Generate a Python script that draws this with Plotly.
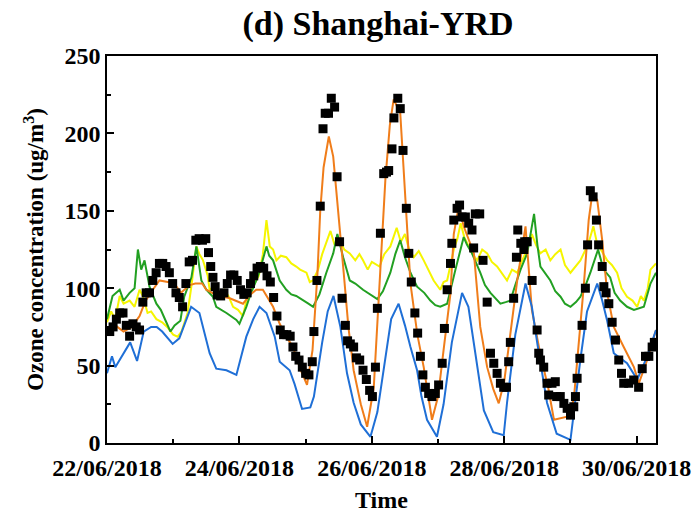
import pandas as pd
import plotly.graph_objects as go

START = pd.Timestamp("2018-06-22 00:00")

# ---- Model 1 (blue) ----
blue_h = [0, 1.8, 3, 5, 8.4, 10.9, 13.3, 16, 18, 20, 23.8, 26.2, 28, 30.5, 33.5, 34.8, 37.2,
          39.6, 43.3, 46.9, 50.5, 53, 55.3, 57.8, 60.8, 62.6, 66.2, 68, 70.7, 73.7, 75, 78,
          80, 82.1, 84.6, 87, 89.4, 92, 95.5, 98, 101, 103, 105.7, 108, 110, 112.4, 114,
          116, 119.6, 122, 125, 128.7, 131, 133, 136.6, 140, 143.8, 145, 148, 151.7, 154,
          156, 159.5, 163, 168, 171.6, 174, 177.7, 179.5, 181.3, 183.7, 188.5, 192.2,
          195.8, 199]
blue_v = [45, 56, 49, 55, 65, 53, 72, 75, 75, 72, 64, 67.6, 76, 88, 84, 75, 58,
          48, 47, 44, 68.7, 80, 88, 84, 68.7, 52.5, 47, 38, 22, 23, 30, 65,
          85, 95, 75, 45, 26, 12, 4, 20, 55, 80, 90, 76, 62, 47, 30,
          15, 4, 25, 65, 97, 88, 64, 21, 7, 5, 26, 70, 103, 88,
          64, 26, 6, 2, 54, 85, 103, 92, 79, 58, 51.5, 41,
          56, 73]

# ---- Model 2 (orange) ----
orange_h = [0, 3, 6, 9, 11.8, 14, 17, 19, 22, 24, 26.8, 30, 32, 34.5, 36, 39.6, 44.5, 49.3,
            52, 54.1, 56.5, 60.2, 62.6, 65, 67.4, 70, 72.5, 74.5, 76.3, 77.3, 78.5, 80.4,
            82, 83.4, 85.8, 87.5, 89.4, 92, 94.3, 96.7, 99, 100.9, 102.5, 103.9, 106.3,
            108.2, 110, 112.5, 114.8, 117.8, 120, 122, 124.5, 125.7, 127.5, 129.3, 131,
            133, 135.3, 137.8, 140, 142, 144, 146.2, 148.7, 151.7, 154, 157, 160, 162,
            166.8, 169.2, 172.8, 174.6, 175.9, 177.7, 179.5, 181.3, 183.7, 187.3, 191,
            192.8, 195.8, 199]
orange_v = [72, 76, 72, 75, 82, 92, 100, 105, 104, 104, 97, 102, 103, 103, 99, 95.6, 93.5, 90,
            96, 99, 99, 88, 77, 68.7, 62, 48, 37.5, 60, 110, 150, 178, 198,
            185, 159, 110, 75, 47, 25, 10.5, 36, 112, 170, 205, 222, 213,
            153, 103, 70, 49, 15, 30, 60, 96.7, 135, 153, 140, 132,
            122.5, 75, 49, 35, 25.6, 40, 69, 105, 140, 86, 58, 35, 15,
            17, 28, 101, 144, 161, 157, 131, 97, 75, 62, 49,
            38.6, 53.6, 73]

# ---- Model 3 (green) ----
green_h = [0, 2, 4.6, 6, 8.2, 10, 11.2, 12.4, 13.6, 15.4, 17.9, 19.5, 21.5, 23, 24.5, 26.6,
           28, 30.6, 32.4, 34.2, 36, 38.4, 39.6, 43.3, 46.9, 48, 50.5, 52, 54.1, 55.5, 57.8,
           58.8, 60.2, 62.6, 65, 66.8, 68.6, 71, 73, 74.7, 77, 79.5, 82, 83.5, 85.6, 88,
           90, 92.8, 94.5, 96.4, 98, 100, 102.7, 104.5, 106.3, 108, 110, 112.4, 115,
           117.2, 119, 120.8, 123.3, 126.3, 128, 129.3, 130.5, 132.3, 135.3, 137, 139,
           141, 142.6, 144.5, 146.2, 148, 149.9, 152.3, 154.8, 156, 157.1, 160.7, 162.5,
           164.4, 166, 168, 170, 171.6, 173.5, 175.2, 178, 180, 182.4, 184, 186, 188.5,
           191, 194.6, 197, 199]
green_v = [80, 95, 99, 92, 97, 100, 125, 112, 118, 101, 90, 86, 78, 72, 76, 79,
           94.5, 107, 127, 105, 99, 94.5, 88, 84, 79.5, 77, 88, 96, 105, 112, 127,
           121, 118, 105, 99, 96, 95, 92, 90, 88, 96, 110, 122.5, 135, 120, 105,
           103, 99, 97, 94.5, 93, 98, 110, 122, 131, 120, 110, 101, 97,
           92, 89, 88, 90, 112, 125, 133, 128, 122.5, 110, 102, 97,
           93, 90, 91, 92, 102, 112, 122.5, 148, 128, 114, 105, 98,
           94.5, 90, 88, 91, 94.5, 102, 110, 125, 112, 107, 97, 92, 88,
           86, 88, 103, 110]

# ---- Model 4 (yellow) ----
yellow_h = [0, 1.5, 3, 4.6, 6, 8.2, 10, 11.8, 13, 14.7, 16, 17.9, 20, 21.8, 24, 25.6, 27,
            29.2, 30.5, 32.4, 33.5, 34.8, 36.5, 37.2, 39, 41, 42.5, 44, 45.7, 47.5, 49.3,
            50.5, 52, 53.5, 55, 56.5, 57.8, 59, 60.2, 61.4, 63, 65, 66.8, 68.6, 70, 72.3,
            73.5, 74.7, 76.5, 78, 79.5, 81, 82.5, 84, 86, 88, 90, 91.5, 92.8, 94.5, 96,
            98.8, 100.5, 102.7, 105, 106.5, 108, 109.5, 111.2, 113, 114.8, 116.5, 118.4,
            120.8, 122, 123.3, 124.5, 125.7, 127, 128.2, 129.5, 131, 132.5, 134.2, 136,
            137.8, 139.5, 141.4, 143, 145, 146.8, 148.7, 150.5, 152.3, 154, 155.5, 157.1,
            159, 160.7, 162.5, 164.4, 166, 168, 169.8, 171.6, 173.5, 175, 176.3, 177.5,
            179, 181.3, 183, 184.9, 186.5, 188.5, 190.5, 192.2, 193.5, 194.6, 196, 197, 199]
yellow_v = [78, 85, 80, 95, 90, 92, 88, 99, 95, 84, 85, 80, 78, 75, 70, 68.7, 72,
            84, 100, 127, 122, 118, 108, 99, 101, 97, 99, 95, 88, 86, 82,
            92, 98, 103, 108, 122, 144, 127, 125, 118, 121, 120, 116, 114, 112, 110,
            104, 105, 112, 122, 130, 137, 128, 132, 125, 122.5, 118, 122, 118, 112, 117,
            114, 122, 127, 139, 130, 135, 125, 120, 124, 118, 112, 105,
            99, 104, 105, 115, 125, 132, 142, 133, 128, 122, 118, 125,
            122.5, 117, 114, 110, 105, 112, 110, 118, 125, 135, 128, 122.5,
            125, 118, 122, 125, 115, 110, 114, 118, 125, 132, 140, 130,
            125, 118, 115, 110, 100, 94.5, 92, 88, 95, 92, 100, 112, 116]

# ---- Observations (black squares) ----
obs_h = [1.0, 2.2, 3.4, 4.6, 5.8, 7.0, 8.2, 9.4, 10.6, 11.8, 13.0, 14.2, 15.4, 16.6, 17.8,
         19.0, 20.2, 21.4, 22.6, 23.8, 25.0, 26.2, 27.4, 28.6, 29.8, 31.0, 32.2, 33.4, 34.6,
         35.8, 36.8, 37.6, 38.4, 39.2, 40.0, 41.2, 42.4, 43.6, 44.8, 46.0, 47.2, 48.4, 49.6,
         50.8, 52.0, 53.2, 54.4, 55.6, 56.8, 58.0, 59.2, 60.4, 61.6, 62.8, 64.0, 65.2, 66.4,
         67.4, 68.4, 69.6, 70.8, 72.0, 73.2, 74.4, 75.0, 76.1, 77.3, 78.3, 79.1, 80.3, 81.3,
         82.5, 83.4, 84.3, 85.2, 86.4, 87.2, 88.2, 89.4, 90.4, 91.6, 92.8, 94.0, 95.2, 96.2,
         97.3, 98.0, 99.1, 100.3, 101.3, 102.1, 103.3, 104.0, 105.4, 106.3, 107.3, 108.5,
         109.4, 110.3, 111.6, 112.6, 113.6, 114.5, 115.4, 116.6, 117.8, 119.0, 120.2, 121.5,
         122.3, 123.3, 124.5, 125.0, 125.7, 126.9, 127.8, 128.7, 129.9, 131.1, 132.3, 132.9,
         133.5, 135.1, 136.3, 137.8, 139.0, 140.2, 141.4, 142.6, 143.8, 144.8, 145.6, 146.2,
         147.4, 148.4, 148.9, 150.0, 151.1, 151.4, 152.3, 154.1, 155.9, 156.5, 157.1, 158.3,
         159.5, 160.1, 161.3, 162.5, 163.0, 164.3, 165.6, 166.8, 168.0, 169.2, 169.8, 170.4,
         171.4, 172.2, 173.4, 174.2, 175.2, 176.2, 177.4, 178.2, 179.5, 180.1, 180.9, 181.9,
         183.1, 184.3, 185.5, 186.5, 187.3, 189.1, 190.9, 192.7, 194.0, 195.2, 196.4, 197.6,
         198.4]
obs_v = [72, 75, 80, 84, 84, 76, 69, 77, 75, 73, 91, 97, 97, 105, 110,
         116, 116, 114, 110, 103, 97, 94, 88, 103, 117, 118, 131, 132, 131,
         132, 123, 114, 107, 101, 95.6, 95, 97, 103, 108.5, 108.5, 105, 99, 96,
         97, 103, 108, 113, 114, 113, 108, 104, 94, 82, 73, 70, 70, 69,
         62, 56, 53.6, 49, 45, 44, 52.5, 72, 105, 153, 203, 213, 213, 222.7,
         217, 172, 130, 93.5, 76, 66, 64, 62, 55, 53.6, 47, 41, 34, 30,
         49, 87, 135.5, 174, 175, 176, 190, 210, 222.7, 216, 189, 151.6,
         122.5, 104, 84, 71, 56, 44, 36, 32, 30, 32, 37.5, 51.5,
         74, 99, 116, 129, 144, 151.6, 153.7, 146, 146, 142, 137.6, 126,
         148, 148, 118, 91, 58, 51.5, 45, 38.6, 36, 36, 52.5, 65,
         93.5, 120, 137.6, 129, 125, 130, 130, 105, 73, 58, 53.6, 49,
         38.6, 31, 38.6, 39.6, 30, 30, 25.6, 22.4, 18, 23.4, 30, 41.8,
         54.7, 76, 100, 128, 163, 159, 144, 128, 114, 101, 97, 90,
         78, 66.5, 53.6, 45, 38.6, 38.6, 40.7, 36, 48, 56, 56, 62,
         65]

X_END_HOURS = 199
Y_TICKS = [0, 50, 100, 150, 200, 250]

FONT = "Liberation Serif"


def to_time(hours):
    return [START + pd.Timedelta(hours=h) for h in hours]


fig = go.Figure()

series = [
    (yellow_h, yellow_v, "#F5F500"),
    (green_h, green_v, "#22A022"),
    (orange_h, orange_v, "#F07D1A"),
    (blue_h, blue_v, "#1F6FD6"),
]
for hrs, vals, color in series:
    fig.add_trace(go.Scatter(x=to_time(hrs), y=vals, mode="lines",
                             line=dict(color=color, width=2), showlegend=False))

fig.add_trace(go.Scatter(x=to_time(obs_h), y=obs_v, mode="markers",
                         marker=dict(symbol="square", size=9, color="black"),
                         showlegend=False))

axis_font = dict(family=FONT, size=24, color="black", weight="bold")

fig.update_layout(
    width=698, height=516,
    margin=dict(l=107, r=42, t=56, b=73),
    paper_bgcolor="white", plot_bgcolor="white",
    title=dict(text="(d) Shanghai-YRD", x=378 / 698, xanchor="center",
               y=1 - 23 / 516, yanchor="middle",
               font=dict(family=FONT, size=34, color="black", weight="bold")),
    font=dict(family=FONT, color="black"),
)

fig.update_xaxes(
    type="date", automargin=False,
    range=[START, START + pd.Timedelta(hours=X_END_HOURS)],
    tick0=START, dtick=2 * 86400000, tickformat="%d/%m/%Y",
    ticks="inside", ticklen=7, tickwidth=1.5, tickcolor="black",
    minor=dict(dtick=86400000, ticks="inside", ticklen=4, tickwidth=1.5, tickcolor="black"),
    showline=True, linecolor="black", linewidth=1.5, mirror=True,
    showgrid=False, zeroline=False,
    tickfont=axis_font, ticklabelstandoff=2,
    title=dict(text="Time", font=dict(family=FONT, size=24, color="black", weight="bold"),
               standoff=12),
)

fig.update_yaxes(
    range=[0, 250], tickvals=Y_TICKS, automargin=False,
    ticks="inside", ticklen=7, tickwidth=1.5, tickcolor="black",
    minor=dict(dtick=25, ticks="inside", ticklen=4, tickwidth=1.5, tickcolor="black"),
    showline=True, linecolor="black", linewidth=1.5, mirror=True,
    showgrid=False, zeroline=False,
    tickfont=axis_font,
    title=dict(text="Ozone concentration (ug/m<sup>3</sup>)",
               font=dict(family=FONT, size=23, color="black", weight="bold"),
               standoff=14),
)

fig.write_html("out.html")
